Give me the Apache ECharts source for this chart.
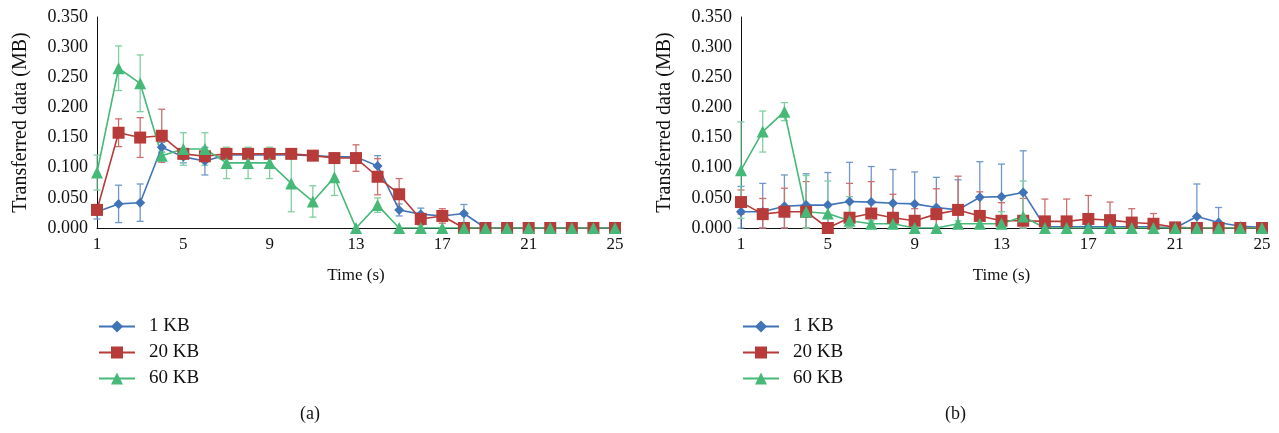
<!DOCTYPE html>
<html>
<head>
<meta charset="utf-8">
<script src="https://cdn.jsdelivr.net/npm/echarts@6/dist/echarts.min.js"></script>
<style>
  html, body { margin: 0; padding: 0; background: #fff; }
  #chart { width: 1279px; height: 433px; }
</style>
</head>
<body>
<div id="chart"></div>
<script>
// time steps (s)
var times = [1, 2, 3, 4, 5, 6, 7, 8, 9, 10, 11, 12, 13, 14, 15, 16, 17, 18, 19, 20, 21, 22, 23, 24, 25];
var seriesNames = ['1 KB', '20 KB', '60 KB'];
var yTicks = [0, 0.05, 0.1, 0.15, 0.2, 0.25, 0.3, 0.35];

// panel (a)
var a1 = [0.027, 0.040, 0.042, 0.134, 0.118, 0.111, 0.121, 0.121, 0.121, 0.121, 0.120, 0.118, 0.118, 0.103, 0.030, 0.023, 0.020, 0.024, 0, 0, 0, 0, 0, 0, 0];
var a1Err = [0.012, 0.031, 0.031, 0.008, 0.010, 0.023, 0.005, 0.005, 0.005, 0.005, 0.003, 0.004, 0.004, 0.017, 0.010, 0.010, 0.005, 0.015, 0, 0, 0, 0, 0, 0, 0];
var a20 = [0.030, 0.158, 0.150, 0.153, 0.123, 0.119, 0.123, 0.123, 0.123, 0.123, 0.120, 0.116, 0.116, 0.085, 0.056, 0.015, 0.020, 0, 0, 0, 0, 0, 0, 0, 0];
var a20Err = [0.008, 0.023, 0.033, 0.044, 0.005, 0.004, 0.005, 0.005, 0.005, 0.005, 0.002, 0.004, 0.022, 0.030, 0.026, 0.010, 0.012, 0, 0, 0, 0, 0, 0, 0, 0];
var a60 = [0.092, 0.265, 0.240, 0.120, 0.131, 0.131, 0.108, 0.108, 0.108, 0.074, 0.044, 0.084, 0, 0.038, 0, 0, 0, 0, 0, 0, 0, 0, 0, 0, 0];
var a60Err = [0.029, 0.037, 0.047, 0.005, 0.027, 0.027, 0.026, 0.026, 0.026, 0.047, 0.026, 0.030, 0, 0.012, 0, 0, 0, 0, 0, 0, 0, 0, 0, 0, 0];

// panel (b)
var b1 = [0.027, 0.027, 0.036, 0.038, 0.038, 0.044, 0.043, 0.041, 0.040, 0.034, 0.030, 0.051, 0.052, 0.059, 0.002, 0.002, 0.002, 0.002, 0.002, 0.002, 0, 0.019, 0.009, 0.003, 0.001];
var b1Err = [0.042, 0.047, 0.052, 0.052, 0.054, 0.065, 0.059, 0.056, 0.053, 0.050, 0.050, 0.059, 0.054, 0.069, 0.001, 0.001, 0.001, 0.001, 0.001, 0.001, 0, 0.054, 0.025, 0.005, 0.002];
var b20 = [0.043, 0.023, 0.027, 0.027, 0, 0.017, 0.024, 0.017, 0.012, 0.023, 0.030, 0.020, 0.012, 0.012, 0.011, 0.011, 0.015, 0.013, 0.009, 0.007, 0.001, 0, 0, 0, 0];
var b20Err = [0.020, 0.026, 0.039, 0.050, 0, 0.057, 0.053, 0.039, 0.020, 0.042, 0.056, 0.040, 0.030, 0.037, 0.037, 0.037, 0.039, 0.030, 0.023, 0.017, 0, 0, 0, 0, 0];
var b60 = [0.096, 0.160, 0.193, 0.027, 0.024, 0.012, 0.007, 0.007, 0, 0, 0.007, 0.007, 0.007, 0.019, 0, 0, 0, 0, 0, 0, 0, 0, 0, 0, 0];
var b60Err = [0.080, 0.034, 0.015, 0.060, 0.054, 0.040, 0.005, 0.005, 0, 0, 0.005, 0.020, 0.020, 0.059, 0, 0, 0, 0, 0, 0, 0, 0, 0, 0, 0];

var colors = ['#4174b6', '#b63b39', '#46b978'];
var errColors = ['#6f97cc', '#cc6f6d', '#7fcfa1'];
var symbols = ['diamond', 'rect', 'triangle'];
var symbolSizes = [10, 12, 12];
var FONT = '"Liberation Serif", "DejaVu Serif", serif';

var chart = echarts.init(document.getElementById('chart'));

function pairs(vals) {
  return times.map(function (t, i) { return [t, vals[i]]; });
}

function errData(vals, errs) {
  return times.map(function (t, i) { return [t, vals[i], errs[i]]; });
}

function renderErr(params, api) {
  var x = api.value(0), v = api.value(1), e = api.value(2);
  if (!e) return null;
  var top = api.coord([x, v + e]);
  var bot = api.coord([x, Math.max(0, v - e)]);
  var c = 3.5;
  var st = { stroke: api.visual('color'), lineWidth: 1.3 };
  return {
    type: 'group',
    children: [
      { type: 'line', shape: { x1: top[0], y1: top[1], x2: bot[0], y2: bot[1] }, style: st },
      { type: 'line', shape: { x1: top[0] - c, y1: top[1], x2: top[0] + c, y2: top[1] }, style: st },
      { type: 'line', shape: { x1: bot[0] - c, y1: bot[1], x2: bot[0] + c, y2: bot[1] }, style: st }
    ]
  };
}

var panels = [
  { vals: [a1, a20, a60], errs: [a1Err, a20Err, a60Err], left: 97, width: 518 },
  { vals: [b1, b20, b60], errs: [b1Err, b20Err, b60Err], left: 741, width: 521 }
];

var grids = [], xAxes = [], yAxes = [], series = [], legends = [];
panels.forEach(function (p, gi) {
  grids.push({ left: p.left, width: p.width, top: 17, height: 211 });
  xAxes.push({
    type: 'value', gridIndex: gi, min: 1, max: 25, interval: 4,
    name: 'Time (s)', nameLocation: 'middle', nameGap: 39,
    nameTextStyle: { fontFamily: FONT, fontSize: 17, color: '#111' },
    axisLine: { lineStyle: { color: '#111', width: 1 } },
    axisTick: { show: false },
    splitLine: { show: false },
    axisLabel: { fontFamily: FONT, fontSize: 17, color: '#111', margin: 8 }
  });
  yAxes.push({
    type: 'value', gridIndex: gi, min: yTicks[0], max: yTicks[yTicks.length - 1], interval: 0.05,
    name: 'Transferred data (MB)', nameLocation: 'middle', nameGap: 66,
    nameTextStyle: { fontFamily: FONT, fontSize: 20, color: '#111' },
    axisLine: { show: true, lineStyle: { color: '#111', width: 1 } },
    axisTick: { show: false },
    splitLine: { show: false },
    axisLabel: {
      fontFamily: FONT, fontSize: 18, color: '#111', margin: 9,
      formatter: function (v) { return v.toFixed(3); }
    }
  });
  for (var k = 0; k < 3; k++) {
    series.push({
      type: 'custom', xAxisIndex: gi, yAxisIndex: gi,
      renderItem: renderErr, data: errData(p.vals[k], p.errs[k]),
      itemStyle: { color: errColors[k] }, z: 2, silent: true
    });
  }
  for (var j = 0; j < 3; j++) {
    series.push({
      type: 'line', name: seriesNames[j], xAxisIndex: gi, yAxisIndex: gi,
      data: pairs(p.vals[j]),
      symbol: symbols[j], symbolSize: symbolSizes[j],
      lineStyle: { color: colors[j], width: 1.6 },
      itemStyle: { color: colors[j] },
      z: 3, animation: false
    });
  }
  legends.push({
    data: seriesNames.slice(),
    orient: 'vertical',
    left: p.left - 4, top: 312,
    itemWidth: 36, itemHeight: 15, itemGap: 7,
    textStyle: { fontFamily: FONT, fontSize: 19, color: '#111', padding: [0, 0, 0, 9] },
    selectedMode: false
  });
});

chart.setOption({
  animation: false,
  backgroundColor: '#fff',
  grid: grids,
  xAxis: xAxes,
  yAxis: yAxes,
  legend: legends,
  series: series,
  graphic: [
    { type: 'text', left: 300, top: 405, style: { text: '(a)', font: '18px ' + FONT, fill: '#111' } },
    { type: 'text', left: 945, top: 405, style: { text: '(b)', font: '18px ' + FONT, fill: '#111' } }
  ]
});
</script>
</body>
</html>
